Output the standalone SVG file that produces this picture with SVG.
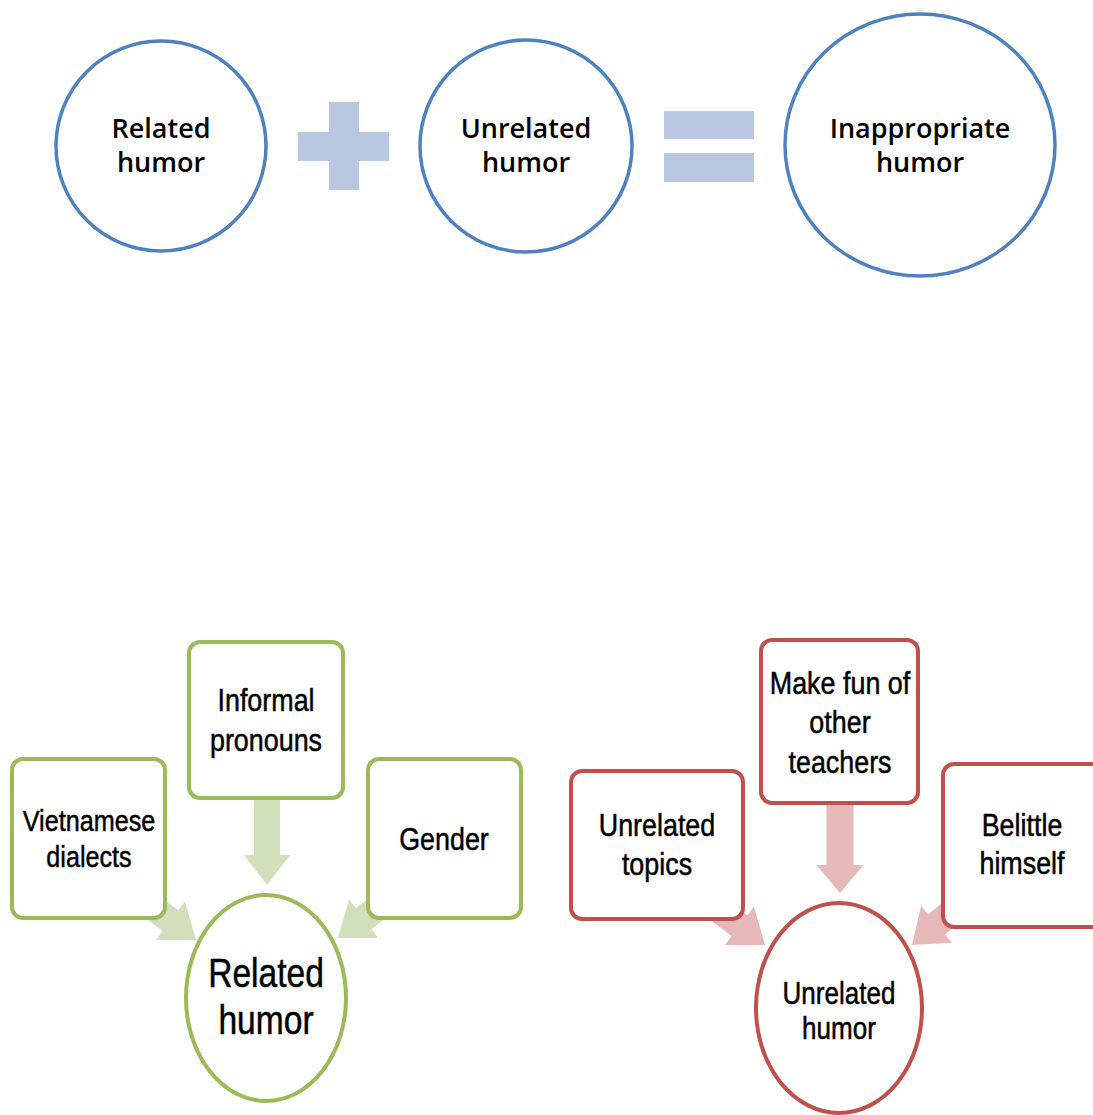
<svg xmlns="http://www.w3.org/2000/svg" width="1093" height="1115" viewBox="0 0 1093 1115">
<style>
.bc{fill:#fff;stroke:#4F81BD;stroke-width:3.5}
.op{fill:#B9C7E0}
.tt{font-family:"Open Sans","Liberation Sans",sans-serif;font-weight:600;font-size:27px;fill:#000;text-anchor:middle}
.gb{fill:#fff;stroke:#9BBB59;stroke-width:4}
.rb{fill:#fff;stroke:#C0504D;stroke-width:4}
.ga{fill:#D2DFBB}
.ra{fill:#E6B9B8}
.bt{font-family:"Liberation Sans",Arial,sans-serif;font-size:32px;fill:#000;stroke:#000;stroke-width:0.5;text-anchor:middle}
</style>
<rect width="1093" height="1115" fill="#fff"/>
<g id="operators">
<rect class="op" x="329" y="102" width="30" height="88"/>
<rect class="op" x="298" y="132" width="91" height="29"/>
<rect class="op" x="664" y="111" width="90" height="28"/>
<rect class="op" x="664" y="153" width="90" height="29"/>
</g>
<g id="top-related">
<circle class="bc" cx="161" cy="146" r="105"/>
<text class="tt" x="161" y="138">Related</text>
<text class="tt" x="161" y="172">humor</text>
</g>
<g id="top-unrelated">
<circle class="bc" cx="526" cy="146" r="106"/>
<text class="tt" x="526" y="138">Unrelated</text>
<text class="tt" x="526" y="172">humor</text>
</g>
<g id="top-inappropriate">
<ellipse class="bc" cx="920" cy="145" rx="135" ry="131"/>
<text class="tt" x="920" y="138">Inappropriate</text>
<text class="tt" x="920" y="172">humor</text>
</g>
<g id="connectors">
<polygon class="ga" transform="translate(267,885) rotate(90)" points="-88,-13 -30,-13 -30,-23 0,0 -30,23 -30,13 -88,13"/>
<polygon class="ga" transform="translate(196,940) rotate(37)" points="-80,-13 -32,-13 -32,-24 0,0 -32,24 -32,13 -80,13"/>
<polygon class="ga" transform="translate(338,938) rotate(143)" points="-80,-13 -32,-13 -32,-24 0,0 -32,24 -32,13 -80,13"/>
<polygon class="ra" transform="translate(840,893) rotate(90)" points="-90,-13.5 -28,-13.5 -28,-23.5 0,0 -28,23.5 -28,13.5 -90,13.5"/>
<polygon class="ra" transform="translate(765,945) rotate(37)" points="-80,-13 -32,-13 -32,-24 0,0 -32,24 -32,13 -80,13"/>
<polygon class="ra" transform="translate(912,945) rotate(140)" points="-80,-13 -32,-13 -32,-24 0,0 -32,24 -32,13 -80,13"/>
</g>
<g id="informal-pronouns">
<rect class="gb" x="189" y="642" width="154" height="156" rx="11"/>
<g transform="translate(266 0) scale(0.84 1)">
<text class="bt" x="0" y="711">Informal</text>
<text class="bt" x="0" y="751">pronouns</text>
</g>
</g>
<g id="vietnamese-dialects">
<rect class="gb" x="12" y="759" width="153" height="159" rx="11"/>
<g transform="translate(89 0) scale(0.84 1)">
<text class="bt" x="0" y="831" style="font-size:30px">Vietnamese</text>
<text class="bt" x="0" y="867" style="font-size:30px">dialects</text>
</g>
</g>
<g id="gender">
<rect class="gb" x="368" y="759" width="153" height="159" rx="11"/>
<g transform="translate(444 0) scale(0.84 1)">
<text class="bt" x="0" y="850">Gender</text>
</g>
</g>
<g id="related-humor">
<ellipse class="gb" cx="266" cy="998" rx="80" ry="103"/>
<g transform="translate(266 0) scale(0.84 1)">
<text class="bt" x="0" y="987" style="font-size:40px">Related</text>
<text class="bt" x="0" y="1034" style="font-size:40px">humor</text>
</g>
</g>
<g id="make-fun">
<rect class="rb" x="761" y="640" width="157" height="163" rx="11"/>
<g transform="translate(840 0) scale(0.84 1)">
<text class="bt" x="0" y="694">Make fun of</text>
<text class="bt" x="0" y="733">other</text>
<text class="bt" x="0" y="773">teachers</text>
</g>
</g>
<g id="unrelated-topics">
<rect class="rb" x="571" y="771" width="172" height="148" rx="11"/>
<g transform="translate(657 0) scale(0.84 1)">
<text class="bt" x="0" y="836">Unrelated</text>
<text class="bt" x="0" y="875">topics</text>
</g>
</g>
<g id="belittle-himself">
<rect class="rb" x="943" y="764" width="160" height="163" rx="11"/>
<g transform="translate(1022 0) scale(0.84 1)">
<text class="bt" x="0" y="836">Belittle</text>
<text class="bt" x="0" y="874">himself</text>
</g>
</g>
<g id="unrelated-humor">
<ellipse class="rb" cx="839" cy="1008" rx="83" ry="105"/>
<g transform="translate(839 0) scale(0.84 1)">
<text class="bt" x="0" y="1004" style="font-size:31px">Unrelated</text>
<text class="bt" x="0" y="1039" style="font-size:31px">humor</text>
</g>
</g>
</svg>
